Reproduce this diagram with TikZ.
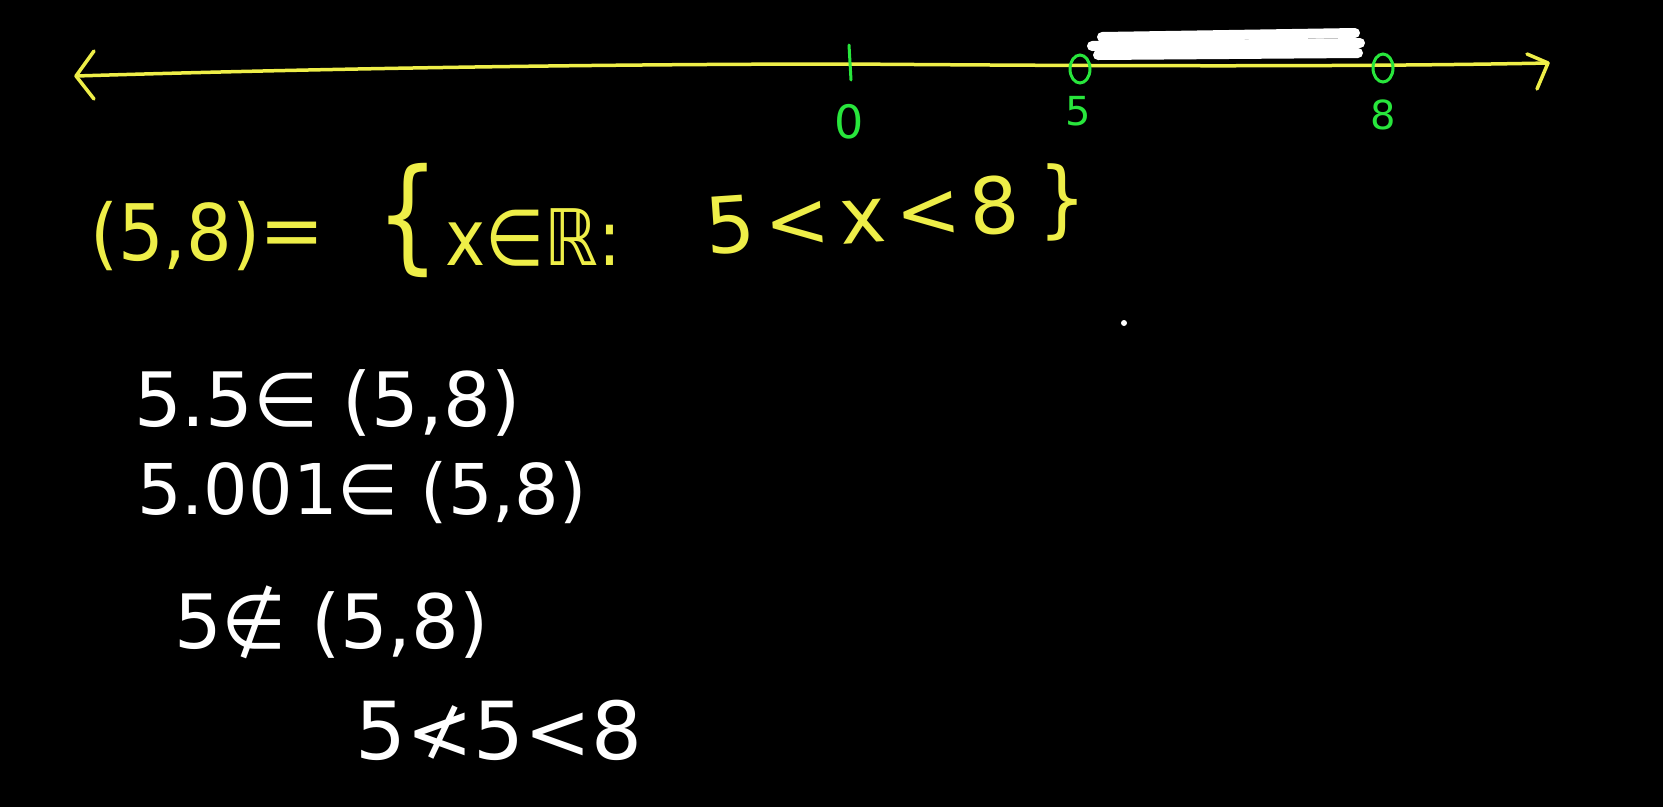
\documentclass[tikz,border=0pt]{standalone}
\usepackage{fontspec}
\setmainfont{DejaVu Sans}
\newfontfamily\hand{DejaVu Sans}
\usetikzlibrary{shapes.geometric}
\definecolor{handyellow}{RGB}{238,238,72}
\definecolor{handgreen}{RGB}{40,230,60}
\tikzset{
  yel/.style={text=handyellow, font=\hand\fontsize{78}{86}\selectfont, inner sep=0pt},
  wht/.style={text=white, font=\hand\fontsize{75}{80}\selectfont, inner sep=0pt, anchor=west},
  grn/.style={text=handgreen, font=\hand\fontsize{40}{44}\selectfont, inner sep=0pt},
  axis/.style={draw=handyellow, line width=3.5pt, line cap=round, line join=round},
  opencirc/.style={ellipse, draw=handgreen, line width=3pt, minimum width=20pt, minimum height=28pt, inner sep=0pt},
  scribble/.style={draw=white, line width=10pt, line cap=round}
}
\begin{document}
\begin{tikzpicture}[x=1pt,y=-1pt]
\fill[black] (0,0) rectangle (1663,807);
\useasboundingbox (0,0) rectangle (1663,807);

% number line
\coordinate (L) at (76,76);
\coordinate (R) at (1548,63);
\draw[axis] (L) .. controls (400,66) and (700,64) .. (849,64) .. controls (1100,66) and (1350,67) .. (R);
\coordinate (Lu) at (94,51);
\coordinate (Ld) at (94,99);
\draw[axis] (Lu) -- (L) -- (Ld);
\coordinate (Ru) at (1527,54);
\coordinate (Rd) at (1537,89);
\draw[axis] (Ru) -- (R) -- (Rd);

% white shading over the interval
\draw[scribble] (1102,37) -- (1355,33);
\draw[scribble] (1092,46) -- (1360,43);
\draw[scribble] (1098,55) -- (1358,53);
\draw[scribble] (1112,42) -- (1340,50);

% tick and labels
\coordinate (T0a) at (849,45);
\coordinate (T0b) at (851,80);
\draw[draw=handgreen, line width=3pt, line cap=round] (T0a) -- (T0b);
\node[opencirc] (c5) at (1080,69) {};
\node[opencirc] (c8) at (1383,68) {};
\node[grn, font=\hand\fontsize{46}{50}\selectfont] (l0) at (849,122) {0};
\node[grn] (l5) at (1078,111) {5};
\node[grn] (l8) at (1383,115) {8};

% equation
\node[yel, anchor=west, xscale=0.92] (eqA) at (90,236) {(5,8)};
\node[yel] (eqEq) at (292,240) {=};
\node[yel, font=\hand\fontsize{124}{130}\selectfont, xscale=0.8] (lbr) at (408,220) {\{};
\node[yel, anchor=west, xscale=0.87] (eqB) at (445,237) {x∈ℝ:};
\node[yel, anchor=west, rotate=4] (eqC) at (705,226) {5\hspace{10pt}<\hspace{10pt}x\hspace{10pt}<\hspace{8pt}8};
\node[yel, font=\hand\fontsize{84}{90}\selectfont, xscale=0.9] (rbr) at (1063,202) {\}};

% white lines
\node[wht] (w1) at (134,403) {5.5∈ (5,8)};
\node[wht, font=\hand\fontsize{70}{80}\selectfont] (w2) at (137,493) {5.001∈ (5,8)};
\node[wht] (w3) at (174,622) {5∉ (5,8)};
\node[wht, font=\hand\fontsize{80}{86}\selectfont] (w4) at (355,730) {5≮5<8};

\fill[white] (1124,323) circle (3pt);
\end{tikzpicture}
\end{document}
